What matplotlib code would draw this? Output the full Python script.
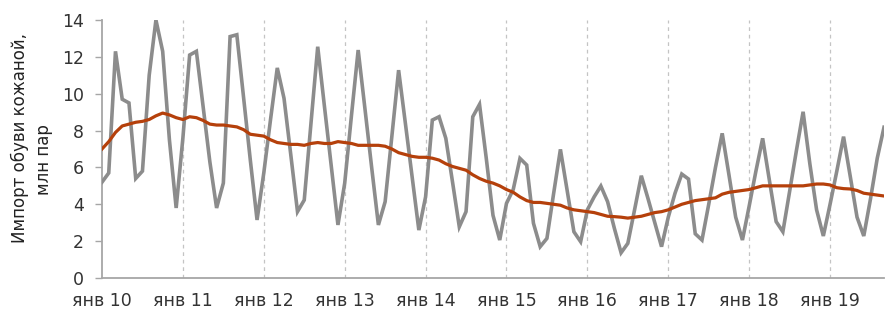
import matplotlib
matplotlib.use("Agg")
import matplotlib.pyplot as plt
import numpy as np

# Monthly import of leather footwear, mln pairs, Jan 2010 .. Sep 2019
imports = [
    5.2, 5.7, 12.3, 9.7, 9.5, 5.4, 5.8, 11.0, 14.0, 12.3, 7.5, 3.8,      # 2010
    7.6, 12.1, 12.3, 9.3, 6.3, 3.8, 5.15, 13.1, 13.2, 9.8, 6.4, 3.15,    # 2011
    5.7, 8.6, 11.4, 9.75, 6.7, 3.6, 4.23, 8.4, 12.55, 9.3, 6.1, 2.88,    # 2012
    5.14, 8.8, 12.37, 9.2, 6.0, 2.88, 4.14, 7.7, 11.28, 8.4, 5.5, 2.6,   # 2013
    4.4, 8.57, 8.75, 7.58, 5.2, 2.78, 3.6, 8.75, 9.42, 6.5, 3.4, 2.06,   # 2014
    4.05, 4.8, 6.49, 6.13, 2.97, 1.7, 2.15, 4.6, 6.98, 4.75, 2.51, 1.97, # 2015
    3.7, 4.4, 4.99, 4.14, 2.7, 1.37, 1.88, 3.7, 5.55, 4.3, 3.0, 1.7,     # 2016
    3.3, 4.6, 5.64, 5.37, 2.4, 2.06, 4.0, 6.0, 7.85, 5.6, 3.3, 2.06,     # 2017
    3.9, 5.8, 7.58, 5.3, 3.06, 2.51, 4.7, 6.9, 9.02, 6.2, 3.7, 2.28,     # 2018
    4.0, 5.8, 7.67, 5.5, 3.3, 2.28, 4.3, 6.5, 8.18,                      # 2019
]

trend = [
    7.0, 7.4, 7.9, 8.25, 8.35, 8.45, 8.5, 8.6, 8.8, 8.95, 8.85, 8.7,
    8.6, 8.75, 8.7, 8.55, 8.35, 8.3, 8.3, 8.25, 8.2, 8.05, 7.8, 7.75,
    7.7, 7.5, 7.35, 7.3, 7.25, 7.25, 7.2, 7.3, 7.35, 7.3, 7.3, 7.4,
    7.35, 7.3, 7.2, 7.2, 7.2, 7.2, 7.15, 7.0, 6.8, 6.7, 6.6, 6.55,
    6.55, 6.5, 6.4, 6.2, 6.05, 5.95, 5.85, 5.6, 5.4, 5.25, 5.15, 5.0,
    4.8, 4.65, 4.4, 4.2, 4.1, 4.1, 4.05, 4.0, 3.95, 3.8, 3.7, 3.65,
    3.6, 3.55, 3.45, 3.35, 3.33, 3.3, 3.25, 3.3, 3.35, 3.45, 3.55, 3.6,
    3.7, 3.85, 4.0, 4.1, 4.2, 4.25, 4.3, 4.35, 4.55, 4.65, 4.7, 4.75,
    4.8, 4.9, 5.0, 5.0, 5.0, 5.0, 5.0, 5.0, 5.0, 5.05, 5.1, 5.1,
    5.05, 4.9, 4.85, 4.83, 4.75, 4.6, 4.55, 4.5, 4.45,
]

tick_labels = ["янв 10", "янв 11", "янв 12", "янв 13", "янв 14",
               "янв 15", "янв 16", "янв 17", "янв 18", "янв 19"]
y_ticks = [0, 2, 4, 6, 8, 10, 12, 14]

months = np.arange(len(imports))
tick_pos = np.arange(len(tick_labels)) * 12

fig = plt.figure(figsize=(8.86, 3.14), dpi=100)
ax = fig.add_axes([102/886, 1 - 278/314, (884 - 102)/886, (278 - 20)/314])

for p in tick_pos[1:]:
    ax.axvline(p, color="#c4c4c4", lw=0.9, ls=(0, (3, 3)), zorder=1)

ax.plot(months, imports, color="#8c8c8c", lw=2.6, zorder=3, solid_joinstyle="miter")
ax.plot(np.arange(len(trend)), trend, color="#b5400b", lw=2.3, zorder=4)

ax.set_xlim(0, 116)
ax.set_ylim(0, 14)
ax.set_yticks(y_ticks)
ax.set_xticks(tick_pos)
ax.set_xticklabels(tick_labels)

for s in ["top", "right"]:
    ax.spines[s].set_visible(False)
for s in ["left", "bottom"]:
    ax.spines[s].set_color("#a6a6a6")
    ax.spines[s].set_linewidth(1.3)

ax.tick_params(axis="y", direction="out", length=5, width=1, color="#a6a6a6",
               pad=8, labelsize=12.5, labelcolor="#333333")
ax.tick_params(axis="x", direction="out", length=0, width=1, color="#a6a6a6",
               pad=10, labelsize=12.5, labelcolor="#333333")

fig.text(20/886, 1 - 138/314, "Импорт обуви кожаной,", rotation=90,
         ha="center", va="center", fontsize=12, color="#222222")
fig.text(44/886, 1 - 160/314, "млн пар", rotation=90,
         ha="center", va="center", fontsize=12, color="#222222")

fig.savefig("out.png", dpi=100)
